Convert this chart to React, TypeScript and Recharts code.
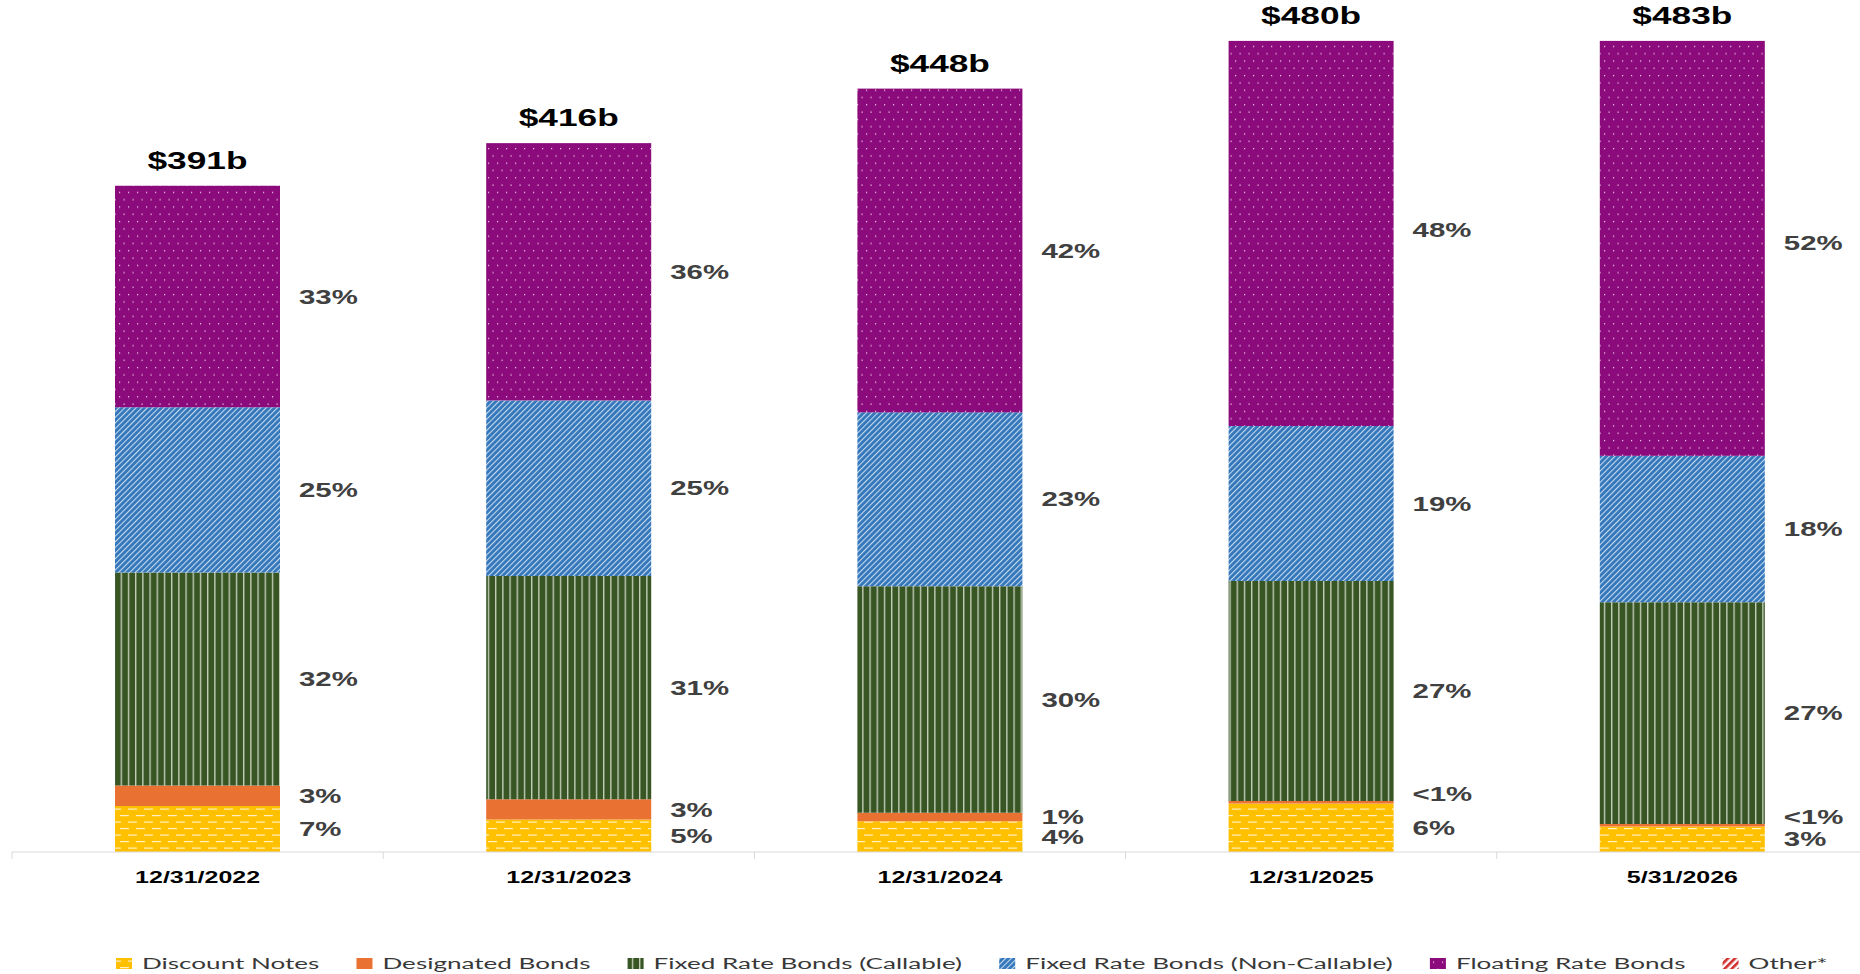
import React from 'react';
import { BarChart, Bar, XAxis, YAxis, Legend, LabelList } from 'recharts';

// values in $ billions
const categories = ['12/31/2022', '12/31/2023', '12/31/2024', '12/31/2025', '5/31/2026'];
const totals = [391, 416, 448, 480, 483];
const discountNotes = [27, 19, 18, 28.5, 15];
const designatedBonds = [12, 12, 5, 1.5, 1.5];
const fixedCallable = [125, 131, 133, 129, 130];
const fixedNonCallable = [97, 103, 102, 91, 86];
const floatingRate = [130, 151, 190, 230, 250.5];
const other = [0, 0, 0, 0, 0];

const discountPct = ['7%', '5%', '4%', '6%', '3%'];
const designatedPct = ['3%', '3%', '1%', '<1%', '<1%'];
const callablePct = ['32%', '31%', '30%', '27%', '27%'];
const nonCallablePct = ['25%', '25%', '23%', '19%', '18%'];
const floatingPct = ['33%', '36%', '42%', '48%', '52%'];

// the original value axis stopped here, so the two tallest bars are cut off
const AXIS_MAX = 476;

const CHART_W = 1870;
const CHART_H = 974;
const MARGIN = { top: 0, right: 2, left: 12, bottom: 22 };
const SX = 1.47; // text in the reference is stretched horizontally
const LEGEND_SX = 1.63;
const FONT = '"Liberation Sans", Arial, sans-serif';
const LEGEND_FONT = 'Lato, "Noto Sans", sans-serif';

const rows = categories.map((date, i) => ({
  date,
  discount: discountNotes[i],
  designated: designatedBonds[i],
  callable: fixedCallable[i],
  nonCallable: fixedNonCallable[i],
  floating: floatingRate[i],
  other: other[i],
}));

const SERIES = [
  { key: 'discount', name: 'Discount Notes', fill: 'url(#pDiscount)', labels: discountPct },
  { key: 'designated', name: 'Designated Bonds', fill: '#E97132', labels: designatedPct },
  { key: 'callable', name: 'Fixed Rate Bonds (Callable)', fill: 'url(#pCallable)', labels: callablePct },
  { key: 'nonCallable', name: 'Fixed Rate Bonds (Non-Callable)', fill: 'url(#pNonCallable)', labels: nonCallablePct },
  { key: 'floating', name: 'Floating Rate Bonds', fill: 'url(#pFloating)', labels: floatingPct },
  { key: 'other', name: 'Other*', fill: 'url(#pOther)', labels: null as string[] | null },
];

function StretchText({ x, y, size, weight, fill, anchor, sx = SX, font = FONT, children }: any) {
  return (
    <text
      transform={`translate(${x} ${y}) scale(${sx} 1)`}
      x={0}
      y={0}
      textAnchor={anchor}
      dominantBaseline="central"
      fontFamily={font}
      fontSize={size}
      fontWeight={weight}
      fill={fill}
    >
      {children}
    </text>
  );
}

function box(props: any) {
  const vb = props.viewBox && props.viewBox.width !== undefined ? props.viewBox : props;
  return { x: +vb.x, y: +vb.y, width: +vb.width, height: +vb.height };
}

const pctLabel = (labels: string[]) => (props: any) => {
  const { x, y, width, height } = box(props);
  const text = labels[props.index];
  if (!text || !isFinite(x)) return null;
  const nudge = height < 6 ? -8 : 0;
  return (
    <StretchText key={`l${props.index}`} x={x + width + 19} y={y + height / 2 + nudge} size={20} weight={700} fill="#404040" anchor="start">
      {text}
    </StretchText>
  );
};

// pixel position of the cut-off line, derived from the floating segment's own scale
function clipTop(y: number, height: number, i: number) {
  const ppu = height / floatingRate[i];
  const lower = totals[i] - floatingRate[i];
  const base = y + height + lower * ppu;
  return base - AXIS_MAX * ppu;
}

function FloatingShape(props: any) {
  const { x, y, width, height, index, fill } = props;
  if (!height) return null;
  const top = Math.max(y, clipTop(y, height, index));
  return <rect x={x} y={top} width={width} height={y + height - top} fill={fill} />;
}

function TotalLabel(props: any) {
  const { x, y, width, height } = box(props);
  const i = props.index;
  if (!isFinite(x)) return null;
  const top = Math.max(y, clipTop(y, height, i));
  return (
    <StretchText key={`t${i}`} x={x + width / 2} y={top - 25} size={24} weight={700} fill="#000" anchor="middle">
      {`$${totals[i]}b`}
    </StretchText>
  );
}

function CategoryTick(props: any) {
  const { x, y, payload } = props;
  const half = (CHART_W - MARGIN.left - MARGIN.right) / categories.length / 2;
  return (
    <g>
      <line x1={x - half} x2={x - half} y1={y} y2={y + 7} stroke="#d9d9d9" />
      <StretchText x={x} y={y + 25} size={17} weight={700} fill="#000" anchor="middle">
        {payload.value}
      </StretchText>
    </g>
  );
}

let measureCtx: CanvasRenderingContext2D | null = null;
function measure(text: string, font: string) {
  if (!measureCtx) measureCtx = document.createElement('canvas').getContext('2d');
  if (!measureCtx) return text.length * 8;
  measureCtx.font = font;
  return measureCtx.measureText(text).width;
}

function LegendContent() {
  let cx = 116;
  const items = SERIES.map((s) => {
    const w = measure(s.name, `16px ${LEGEND_FONT}`) * LEGEND_SX;
    const item = (
      <g key={s.key}>
        <rect x={cx} y={13} width={16} height={11} fill={s.fill} />
        <StretchText x={cx + 26} y={18} size={16} weight={400} fill="#383838" anchor="start" sx={LEGEND_SX} font={LEGEND_FONT}>
          {s.name}
        </StretchText>
      </g>
    );
    cx += 26 + w + 37;
    return item;
  });
  return (
    <svg width={1860} height={40} style={{ display: 'block' }}>
      {items}
    </svg>
  );
}

function Patterns() {
  return (
    <svg width={0} height={0} style={{ position: 'absolute' }}>
      <defs>
        <pattern id="pFloating" width={9} height={14.6} patternUnits="userSpaceOnUse">
          <rect width={9} height={14.6} fill="#8B0B7D" />
          <rect x={2} y={2} width={1.2} height={1.2} fill="#F3D3EE" />
          <rect x={6.5} y={9.3} width={1.2} height={1.2} fill="#F3D3EE" />
        </pattern>
        <pattern id="pNonCallable" width={4} height={4} patternUnits="userSpaceOnUse" patternTransform="rotate(45)">
          <rect width={4} height={4} fill="#3476BA" />
          <rect width={1.1} height={4} fill="#C4DBF0" />
        </pattern>
        <pattern id="pCallable" width={7.2} height={10} patternUnits="userSpaceOnUse">
          <rect width={7.2} height={10} fill="#375623" />
          <rect x={5.5} width={1.2} height={10} fill="#D6DECF" />
        </pattern>
        <pattern id="pDiscount" width={16} height={13} patternUnits="userSpaceOnUse">
          <rect width={16} height={13} fill="#FFC000" />
          <rect x={0} y={2.5} width={9} height={1.2} fill="#FFF1C2" />
          <rect x={8} y={9} width={8} height={1.2} fill="#FFF1C2" />
          <rect x={0} y={9} width={1} height={1.2} fill="#FFF1C2" />
        </pattern>
        <pattern id="pOther" width={5} height={5} patternUnits="userSpaceOnUse" patternTransform="rotate(45)">
          <rect width={5} height={5} fill="#FFFFFF" />
          <rect width={2.6} height={5} fill="#D22B2B" />
        </pattern>
      </defs>
    </svg>
  );
}

export default function App() {
  return (
    <div
      style={{
        position: 'absolute',
        left: 0,
        top: 0,
        width: 1860,
        height: CHART_H,
        overflow: 'hidden',
        background: '#fff',
      }}
    >
      <Patterns />
      <BarChart width={CHART_W} height={CHART_H} data={rows} margin={MARGIN}>
        <XAxis
          dataKey="date"
          tick={<CategoryTick />}
          tickLine={false}
          tickSize={0}
          tickMargin={0}
          height={60}
          interval={0}
          axisLine={{ stroke: '#d9d9d9', strokeWidth: 1 }}
        />
        <YAxis hide domain={[0, 500]} />
        <Legend
          verticalAlign="bottom"
          content={<LegendContent />}
          wrapperStyle={{ top: 945, left: 0, bottom: 'auto', width: 1860 }}
        />
        {SERIES.map((s) => (
          <Bar
            key={s.key}
            dataKey={s.key}
            name={s.name}
            stackId="a"
            fill={s.fill}
            barSize={165}
            isAnimationActive={false}
            shape={s.key === 'floating' ? <FloatingShape /> : undefined}
          >
            {s.labels && <LabelList dataKey={s.key} content={pctLabel(s.labels)} />}
            {s.key === 'floating' && <LabelList dataKey={s.key} content={<TotalLabel />} />}
          </Bar>
        ))}
      </BarChart>
    </div>
  );
}
